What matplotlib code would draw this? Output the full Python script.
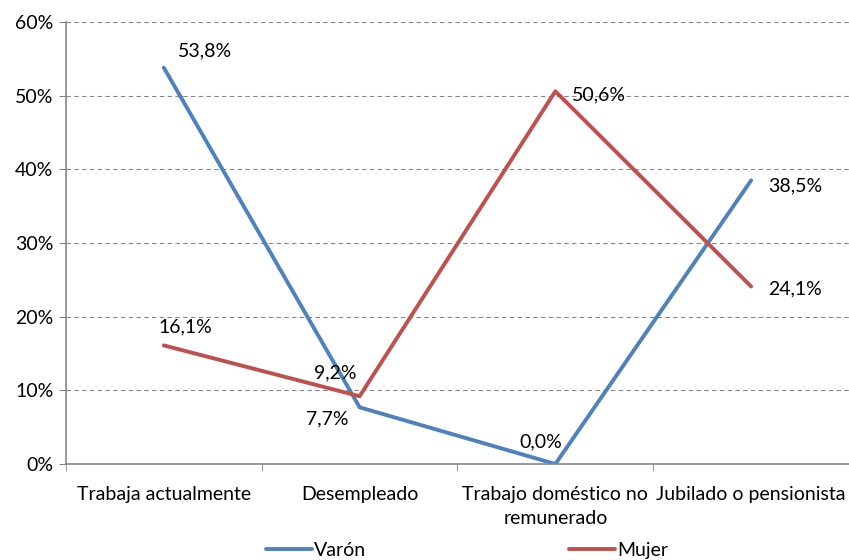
import numpy as np
import matplotlib.pyplot as plt

# Data
categories = ['Trabaja actualmente', 'Desempleado', 'Trabajo doméstico no\nremunerado',
              'Jubilado o pensionista']
varon = [53.8, 7.7, 0.0, 38.5]
mujer = [16.1, 9.2, 50.6, 24.1]
yticks = [0, 10, 20, 30, 40, 50, 60]

plt.rcParams['font.family'] = ['Lato', 'DejaVu Sans']
fs = 14

fig = plt.figure(figsize=(8.49, 5.6), dpi=100)
ax = fig.add_axes([0.0777, 0.1714, 0.9223, 0.7893])

x = np.arange(len(categories))
blue = '#4F81BD'
red = '#C0504D'
ax.plot(x, varon, color=blue, lw=2.8, label='Varón', solid_capstyle='round')
ax.plot(x, mujer, color=red, lw=2.8, label='Mujer', solid_capstyle='round')

ax.set_xlim(-0.5, len(categories) - 0.5)
ax.set_ylim(0, 60)
ax.set_yticks(yticks)
ax.set_yticklabels([f'{v}%' for v in yticks], fontsize=fs)
ax.set_xticks(x)
ax.set_xticklabels(categories, fontsize=fs, linespacing=1.45)
ax.tick_params(axis='x', length=0, pad=16)
ax.set_xticks(np.arange(len(categories) + 1) - 0.5, minor=True)
ax.tick_params(axis='x', which='minor', length=5, color='#868686')
ax.tick_params(axis='y', length=5, color='#868686', pad=4)

ax.grid(axis='y', color='#868686', linestyle=(0, (4, 3)), lw=0.8)
ax.set_axisbelow(True)
for s in ['top', 'right']:
    ax.spines[s].set_visible(False)
for s in ['left', 'bottom']:
    ax.spines[s].set_color('#868686')
    ax.spines[s].set_linewidth(1.2)


def fmt(v):
    return f'{v:.1f}%'.replace('.', ',')


# label offsets in points (dx, dy, ha, va)
varon_off = [(10, 6, 'left', 'bottom'), (-8, -2, 'right', 'top'),
             (5, 10, 'right', 'bottom'), (12, -4, 'left', 'center')]
mujer_off = [(-4, 7, 'left', 'bottom'), (-2, 11, 'right', 'bottom'),
             (12, -9, 'left', 'bottom'), (12, -2, 'left', 'center')]
for i in range(len(categories)):
    dx, dy, ha, va = varon_off[i]
    ax.annotate(fmt(varon[i]), (x[i], varon[i]), xytext=(dx, dy), textcoords='offset points',
                ha=ha, va=va, fontsize=fs)
    dx, dy, ha, va = mujer_off[i]
    ax.annotate(fmt(mujer[i]), (x[i], mujer[i]), xytext=(dx, dy), textcoords='offset points',
                ha=ha, va=va, fontsize=fs)

leg = fig.legend(loc='lower center', bbox_to_anchor=(0.55, -0.03), ncol=2, frameon=False,
                 fontsize=fs, handlelength=2.4, handletextpad=0.1, columnspacing=10.4)
plt.savefig('out.png', dpi=100)
